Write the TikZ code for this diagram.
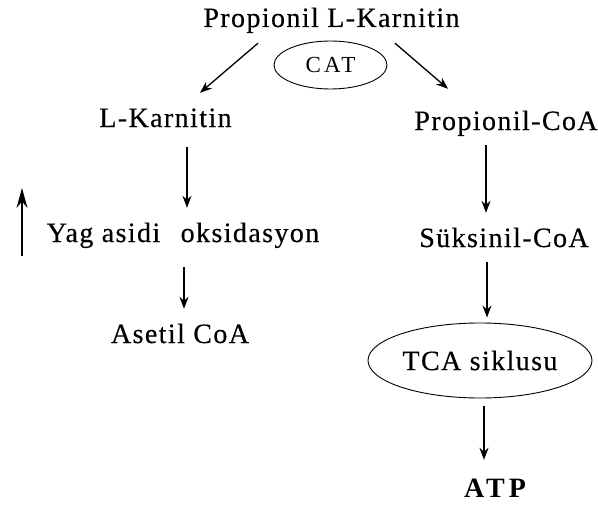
\documentclass[tikz,border=0pt]{standalone}
\usepackage{fontspec}
\setmainfont{Liberation Serif}
\newfontfamily\pathfont[LetterSpace=5, FakeBold=0.4]{Liberation Serif}
\newfontfamily\widefont[LetterSpace=14]{Liberation Serif}
\usetikzlibrary{arrows.meta, shapes.geometric}

\begin{document}
\begin{tikzpicture}[x=1pt, y=-1pt,
    lbl/.style={font=\pathfont\fontsize{28}{30}\selectfont, inner sep=0pt, text height=20pt, text depth=6pt, anchor=base},
    ring/.style={draw, ellipse, line width=0.9pt, inner sep=0pt},
    flow/.style={-{Stealth[length=12pt, width=9pt]}, line width=1.3pt},
]
    \useasboundingbox (0,0) rectangle (598,506);

    % top of the pathway
    \node[lbl] (pl) at (331.5,27) {Propionil L-Karnitin};
    \node[ring, minimum width=113pt, minimum height=48pt, font=\widefont\fontsize{23}{25}\selectfont] (cat) at (330.5,65) {CAT};

    % left branch
    \node[lbl] (lk) at (165.5,127) {L-Karnitin};
    \node[lbl] (fa) at (183,242) {Yag asidi\hspace{12pt} oksidasyon};
    \node[lbl] (ac) at (180,343) {Asetil CoA};
    \coordinate (up0) at (22,256);
    \coordinate (up1) at (22,188);

    % right branch
    \node[lbl] (pc) at (506,130) {Propionil-CoA};
    \node[lbl] (sc) at (504,247) {Süksinil-CoA};
    \node[ring, minimum width=224pt, minimum height=75pt, font=\pathfont\fontsize{28}{30}\selectfont] (tca) at (480,360.5) {TCA siklusu};
    \node[lbl, font=\widefont\bfseries\fontsize{28}{30}\selectfont] (atp) at (495,497) {ATP};

    \draw[flow] ([shift={(-73.5,10)}]pl.south) -- ([shift={(34.5,-14)}]lk.north);
    \draw[flow] ([shift={(63.5,10)}]pl.south) -- ([shift={(-58,-21)}]pc.north);
    \draw[flow] ([shift={(21.5,14)}]lk.south) -- ([shift={(4,-14)}]fa.north);
    \draw[flow] ([shift={(1,19)}]fa.south) -- ([shift={(4,-14)}]ac.north);
    \draw[flow, -{Stealth[length=20pt, width=11pt]}] (up0) -- (up1);
    \draw[flow] ([shift={(-20,9)}]pc.south) -- ([shift={(-18,-14)}]sc.north);
    \draw[flow] ([shift={(-17,9)}]sc.south) -- ([shift={(7,-5)}]tca.north);
    \draw[flow] ([shift={(4,8)}]tca.south) -- ([shift={(-11,-17)}]atp.north);
\end{tikzpicture}
\end{document}
